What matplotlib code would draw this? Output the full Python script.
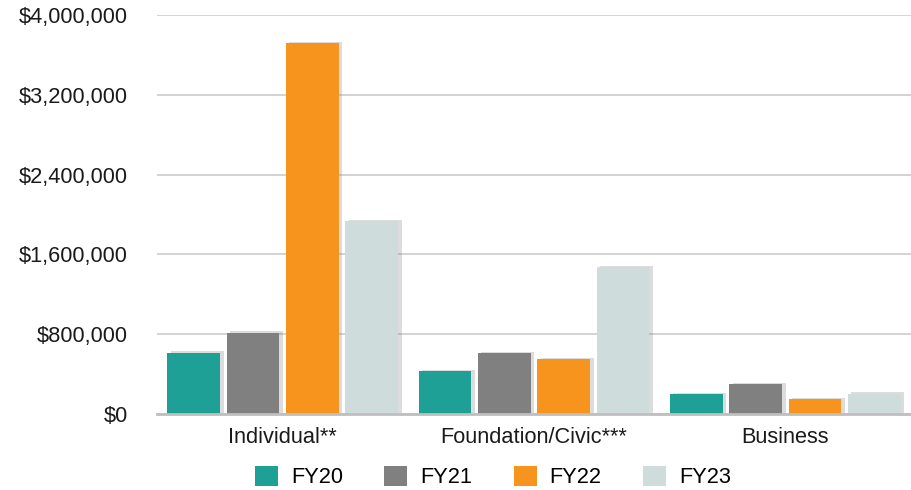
import matplotlib
matplotlib.use("Agg")
import matplotlib.pyplot as plt
import matplotlib.patheffects as pe
import numpy as np
from matplotlib.ticker import FuncFormatter
from matplotlib.patches import Patch

categories = ["Individual**", "Foundation/Civic***", "Business"]
series_names = ["FY20", "FY21", "FY22", "FY23"]
fy20 = [615000, 430000, 200000]
fy21 = [815000, 610000, 300000]
fy22 = [3720000, 550000, 150000]
fy23 = [1930000, 1470000, 205000]
yticks = [0, 800000, 1600000, 2400000, 3200000, 4000000]
colors = ["#1FA096", "#808080", "#F7941E", "#CFDCDC"]

plt.rcParams['font.family'] = ['Liberation Sans', 'DejaVu Sans']

fig = plt.figure(figsize=(9.11, 4.90), dpi=100)
ax = fig.add_axes([157/911, (490-414)/490, (911-157)/911, (414-15)/490])

x = np.arange(len(categories))
pitch = 0.236
width = 0.21
offsets = [-1.5*pitch, -0.5*pitch, 0.5*pitch, 1.5*pitch]
shadow = [pe.SimplePatchShadow(offset=(2.5, 1.0), shadow_rgbFace='#777777', alpha=0.25), pe.Normal()]
for vals, off, c in zip([fy20, fy21, fy22, fy23], offsets, colors):
    bars = ax.bar(x + off, vals, width=width, color=c, zorder=3)
    for b in bars:
        b.set_path_effects(shadow)

ax.set_xlim(-0.5, 2.5)
ax.set_ylim(0, 4000000)
ax.set_yticks(yticks)
ax.yaxis.set_major_formatter(FuncFormatter(lambda v, p: "${:,.0f}".format(v)))
ax.set_xticks(x)
ax.set_xticklabels(categories)
ax.tick_params(axis='both', length=0, labelsize=15.7, colors='#1a1a1a')
ax.tick_params(axis='y', pad=21)
ax.tick_params(axis='x', pad=9.5)
ax.grid(axis='y', color='#CCCCCC', linewidth=1.2, zorder=0)
for s in ['top', 'right', 'left']:
    ax.spines[s].set_visible(False)
ax.spines['bottom'].set_color('#BFBFBF')
ax.spines['bottom'].set_linewidth(2)
ax.spines['bottom'].set_zorder(4)

handles = [Patch(facecolor=c, edgecolor='none') for c in colors]
fig.legend(handles, series_names, loc='center', bbox_to_anchor=(493/911, 1-477/490),
           ncol=4, frameon=False, fontsize=15.7, handlelength=1.05, handleheight=1.05,
           handletextpad=0.6, columnspacing=1.9)

fig.savefig("out.png", dpi=100)
